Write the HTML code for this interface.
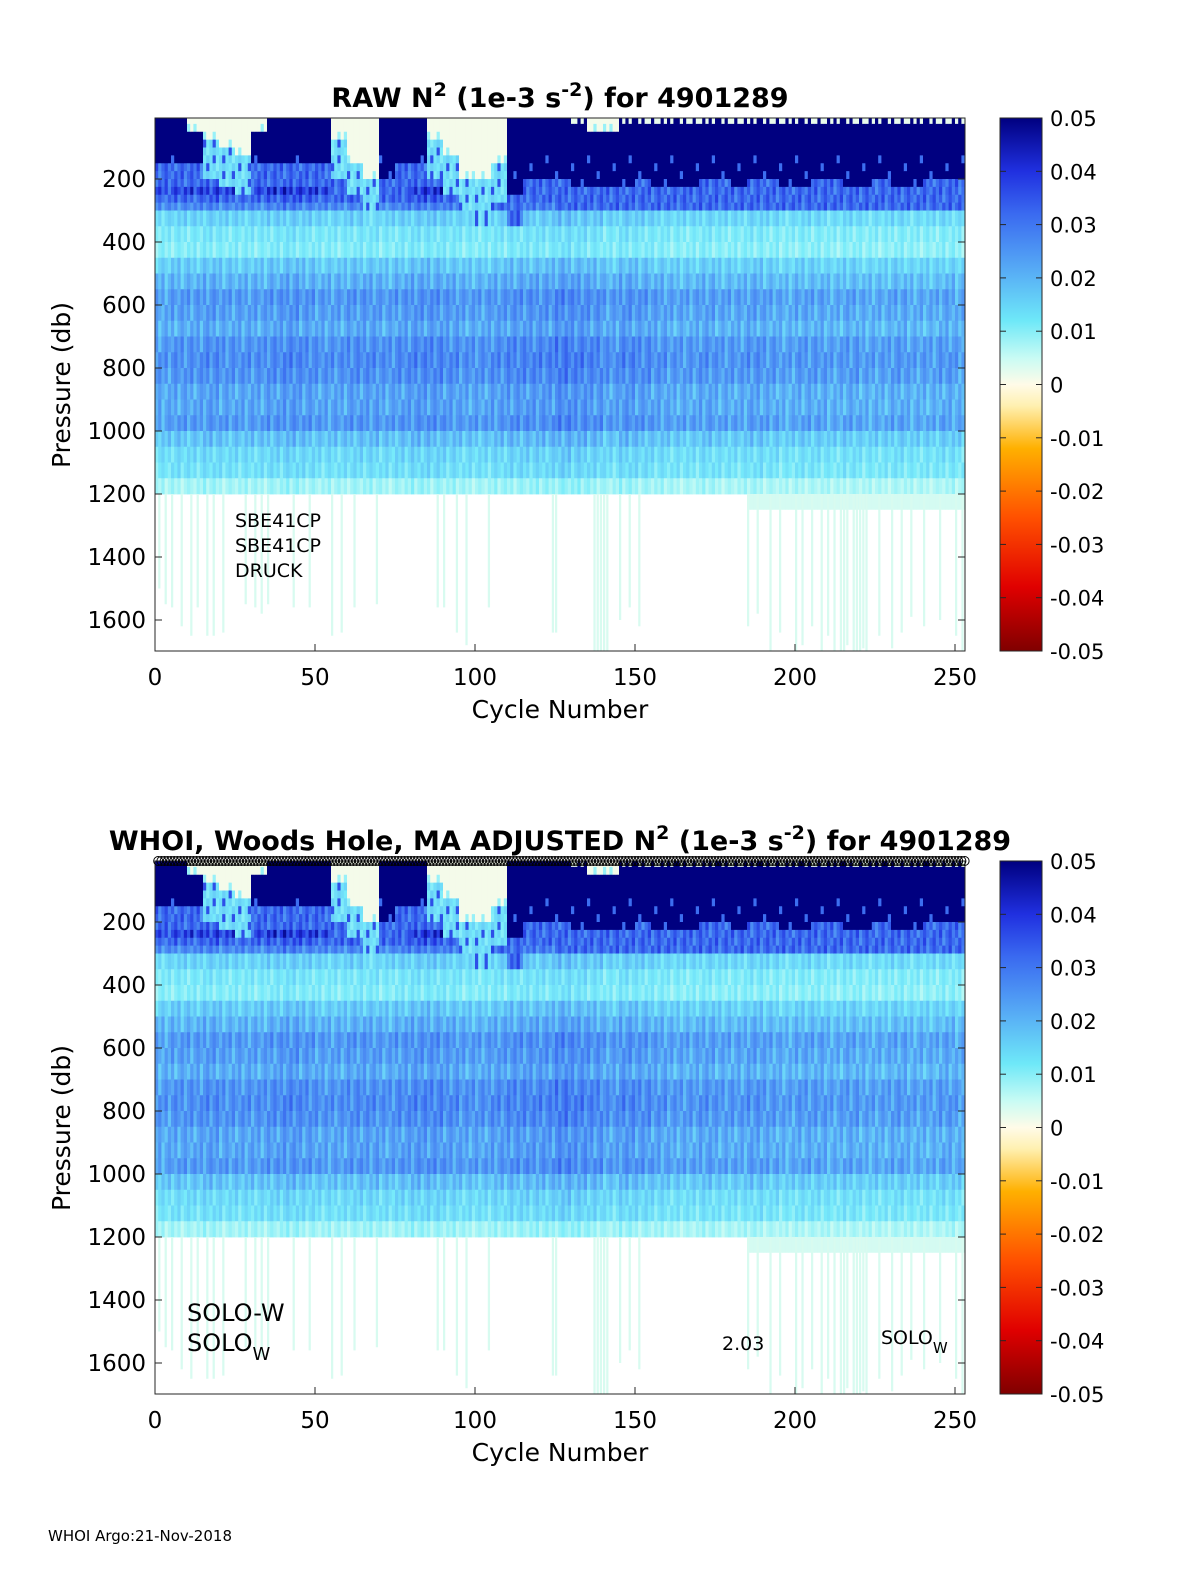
<!DOCTYPE html>
<html><head><meta charset="utf-8"><style>
html,body{margin:0;padding:0;background:#fff;}
svg{display:block;font-family:"DejaVu Sans","Liberation Sans",sans-serif;}
</style></head><body>
<svg id="fig" width="1200" height="1575" viewBox="0 0 1200 1575" xmlns="http://www.w3.org/2000/svg">
<defs>
<linearGradient id="cbg" x1="0" y1="1" x2="0" y2="0">
<stop offset="0" stop-color="#800000"/><stop offset="0.12" stop-color="#e00000"/><stop offset="0.25" stop-color="#ff5000"/><stop offset="0.38" stop-color="#ffb000"/><stop offset="0.46" stop-color="#fff0b0"/><stop offset="0.5" stop-color="#fffbe8"/><stop offset="0.55" stop-color="#c8fbf4"/><stop offset="0.62" stop-color="#6ee8f8"/><stop offset="0.72" stop-color="#55a8f5"/><stop offset="0.82" stop-color="#3a6af0"/><stop offset="0.9" stop-color="#2030e0"/><stop offset="1" stop-color="#000080"/>
</linearGradient>
</defs>
<g id="p1"></g><g id="p2"></g>
<text x="48" y="1541" font-size="15">WHOI Argo:21-Nov-2018</text>
</svg>
<script>
// bin tops (db) and mean N2 profile (1e-3 s^-2)
const binTop = [0,25,50,75,100,125,150,175,200,225,250,275,300,350,400,450,500,550,600,650,700,750,800,850,900,950,1000,1050,1100,1150];
const binBot = [25,50,75,100,125,150,175,200,225,250,275,300,350,400,450,500,550,600,650,700,750,800,850,900,950,1000,1050,1100,1150,1200];
const profile = [0.05,0.05,0.05,0.05,0.05,0.05,0.05,0.05,0.042,0.036,0.03,0.024,0.013,0.01,0.009,0.014,0.017,0.021,0.02,0.018,0.022,0.023,0.022,0.019,0.019,0.021,0.015,0.012,0.011,0.007];
// per 5-cycle group: mixed layer depth (db), navy layer bottom (db), deep-layer scale
const mld = [0,0,30,60,90,110,40,0,0,0,0,60,130,200,0,0,0,60,120,180,200,150,0,0,0,0,10,40,30,15,10,15,15,10,15,15,10,15,15,10,15,15,10,15,15,10,15,15,10,15,15];
const darkBottom = [160,160,150,150,150,170,160,150,160,160,160,170,180,200,200,170,160,160,170,190,210,240,260,200,210,220,230,230,230,230,220,225,230,230,220,220,225,220,220,225,225,220,220,225,225,220,225,225,220,220,220];
const scale = [0.95,1.0,1.0,1.05,1.0,1.0,1.0,1.05,1.1,1.05,1.0,1.0,1.05,1.05,1.0,1.05,1.1,1.1,1.05,1.0,1.0,1.05,1.1,1.1,1.1,1.2,1.15,1.1,1.0,1.1,1.05,1.0,0.95,0.95,1.0,0.95,0.95,1.0,0.95,0.9,0.95,0.95,0.9,0.95,0.9,0.9,0.95,0.9,0.9,0.95,0.9];
const texture = [1.0,0.85,1.15,0.95,1.25,0.8,1.05,1.2,0.9,1.1,0.75,1.0,1.15];
const nCycles = 253;
// deep profiles beyond 1200 db
const deepCycles = [1,3,5,8,11,13,16,18,21,28,31,33,35,43,48,55,58,62,69,88,90,94,97,104,124,125,137,138,139,140,141,145,148,151,185,188,192,195,200,202,205,208,210,212,214,215,216,218,219,220,221,222,226,230,233,236,240,245,250,252];
const deepMax = [1500,1550,1560,1620,1650,1560,1650,1650,1640,1550,1560,1580,1550,1560,1560,1650,1640,1560,1550,1560,1560,1640,1680,1560,1640,1640,1700,1700,1700,1700,1700,1600,1560,1620,1620,1580,1700,1640,1700,1680,1620,1700,1650,1700,1700,1700,1680,1700,1700,1700,1690,1700,1650,1690,1640,1590,1620,1600,1650,1700];
const xTicks = [0,50,100,150,200,250];
const yTicks = [200,400,600,800,1000,1200,1400,1600];
const cbTicks = [0.05,0.04,0.03,0.02,0.01,0,-0.01,-0.02,-0.03,-0.04,-0.05];

const NS = "http://www.w3.org/2000/svg";
const X0=155, XS=3.2, PX1=965;
function xS(c){return X0+c*XS;}
function yS(p,off){return 179+off+(p-200)*0.315;}
function cmap(v){
  const stops=[[-0.05,[128,0,0]],[-0.03,[255,32,0]],[-0.01,[255,176,0]],[-0.002,[255,240,176]],[0,[255,251,232]],[0.005,[200,251,244]],[0.01,[120,235,250]],[0.015,[100,200,248]],[0.02,[85,160,245]],[0.03,[60,110,240]],[0.04,[32,48,224]],[0.05,[0,0,128]]];
  if(v<=stops[0][0])return "rgb("+stops[0][1]+")";
  for(let i=1;i<stops.length;i++){if(v<=stops[i][0]){const a=stops[i-1],b=stops[i],t=(v-a[0])/(b[0]-a[0]);return "rgb("+a[1].map((q,k)=>Math.round(q+(b[1][k]-q)*t)).join(",")+")";}}
  return "rgb(0,0,128)";
}
function el(tag,attrs,parent){const e=document.createElementNS(NS,tag);for(const k in attrs)e.setAttribute(k,attrs[k]);parent.appendChild(e);return e;}
function txt(parent,x,y,s,size,anchor,weight){const t=el("text",{x:x,y:y,"font-size":size,"text-anchor":anchor||"start"},parent);if(weight)t.setAttribute("font-weight",weight);t.textContent=s;return t;}

function drawPanel(g,off){
  const top=118+off, bot=651+off;
  const hm=el("g",{},g);
  
  
  for(let c=0;c<nCycles;c++){
    const gi=Math.floor(c/5), m=mld[gi], db=darkBottom[gi], sc=scale[gi];
    for(let b=0;b<binTop.length;b++){
      const p0=Math.max(binTop[b],6), p1=binBot[b];
      const tx=texture[(c+b*5)%texture.length];
      let v;
      if(binTop[b]<m){
        if(m<=20) v=(tx<1.05)?0.002:0.05;
        else v=(binTop[b]+25>=m && tx>1.1)?0.008:0.001;
      }
      else if(m>50 && binTop[b]<m+120) v=(tx>1.15)?0.035:0.012*tx;
      else if(p1<=db) v=(tx>1.2&&binTop[b]>100)?0.03:0.05;
      else if(binTop[b]<db+60) v=Math.min(0.045,0.03*tx);
      else v=profile[b]*sc*tx;
      const r=el("rect",{x:xS(c),y:yS(p0,off),width:XS+0.4,height:yS(p1,off)-yS(p0,off)+0.4,fill:cmap(v)},hm);
      
      
    }
    if(c>=185){
      const r=el("rect",{x:xS(c),y:yS(1200,off),width:XS+0.4,height:yS(1250,off)-yS(1200,off),fill:"#d4fbf2"},hm);
      
      
    }
  }
  for(let i=0;i<deepCycles.length;i++){
    const c=deepCycles[i], pb=deepMax[i];
    const r=el("rect",{x:xS(c),y:yS(1200,off),width:XS*0.7,height:yS(Math.min(pb,1700),off)-yS(1200,off),fill:"#d8fbf0"},hm);
    
    
  }
  const ax=el("rect",{x:X0,y:top,width:PX1-X0,height:bot-top,fill:"none",stroke:"#262626","stroke-width":1},g);
  
  
  xTicks.forEach(t=>{
    el("line",{x1:xS(t),x2:xS(t),y1:bot,y2:bot-7,stroke:"#262626"},g);
    const l=txt(g,xS(t),bot+34,String(t),23,"middle");
    
    
  });
  yTicks.forEach(t=>{
    el("line",{x1:X0,x2:X0+7,y1:yS(t,off),y2:yS(t,off),stroke:"#262626"},g);
    el("line",{x1:PX1,x2:PX1-7,y1:yS(t,off),y2:yS(t,off),stroke:"#262626"},g);
    const l=txt(g,146,yS(t,off)+8,String(t),23,"end");
    
    
  });
  const xl=txt(g,560,bot+67,"Cycle Number",25,"middle");
  
  
  const yl=txt(g,0,0,"Pressure (db)",25,"middle");
  yl.setAttribute("transform","translate(70,"+(385+off)+") rotate(-90)");
  
  
  const cb=el("rect",{x:1000,y:top,width:42,height:bot-top,fill:"url(#cbg)",stroke:"#262626"},g);
  
  
  cbTicks.forEach((t,i)=>{
    const y=top+i*(bot-top)/(cbTicks.length-1);
    el("line",{x1:1042,x2:1036,y1:y,y2:y,stroke:"#262626"},g);
    el("line",{x1:1000,x2:1006,y1:y,y2:y,stroke:"#262626"},g);
    const l=txt(g,1050,y+8,String(t),21,"start");
    
    
  });
}

const p1=document.getElementById("p1"), p2=document.getElementById("p2");
drawPanel(p1,0);
drawPanel(p2,743);

let t=el("text",{x:560,y:107,"font-size":27,"font-weight":"bold","text-anchor":"middle"},p1);
t.innerHTML='RAW N<tspan dy="-11" font-size="19">2</tspan><tspan dy="11"> (1e-3 s</tspan><tspan dy="-11" font-size="19">-2</tspan><tspan dy="11">) for 4901289</tspan>';


t=el("text",{x:560,y:850,"font-size":27,"font-weight":"bold","text-anchor":"middle"},p2);
t.innerHTML='WHOI, Woods Hole, MA  ADJUSTED N<tspan dy="-11" font-size="19">2</tspan><tspan dy="11"> (1e-3 s</tspan><tspan dy="-11" font-size="19">-2</tspan><tspan dy="11">) for 4901289</tspan>';
t.setAttribute('xml:space','preserve');



["SBE41CP","SBE41CP","DRUCK"].forEach((s,i)=>{
  const a=txt(p1,235,527+i*25,s,19,"start");
  
  
});
let a=txt(p2,187,1321,"SOLO-W",24,"start");


a=el("text",{x:187,y:1351,"font-size":24},p2);
a.innerHTML='SOLO<tspan dy="9" font-size="18">W</tspan>';


a=txt(p2,722,1350,"2.03",19,"start");


a=el("text",{x:881,y:1344,"font-size":19},p2);
a.innerHTML='SOLO<tspan dy="9" font-size="15">W</tspan>';



for(let c=1;c<=nCycles;c++){
  const ci=el("circle",{cx:xS(c),cy:861,r:4.5,fill:"none",stroke:"#000","stroke-width":1},p2);
  
  
}
</script>
</body></html>
